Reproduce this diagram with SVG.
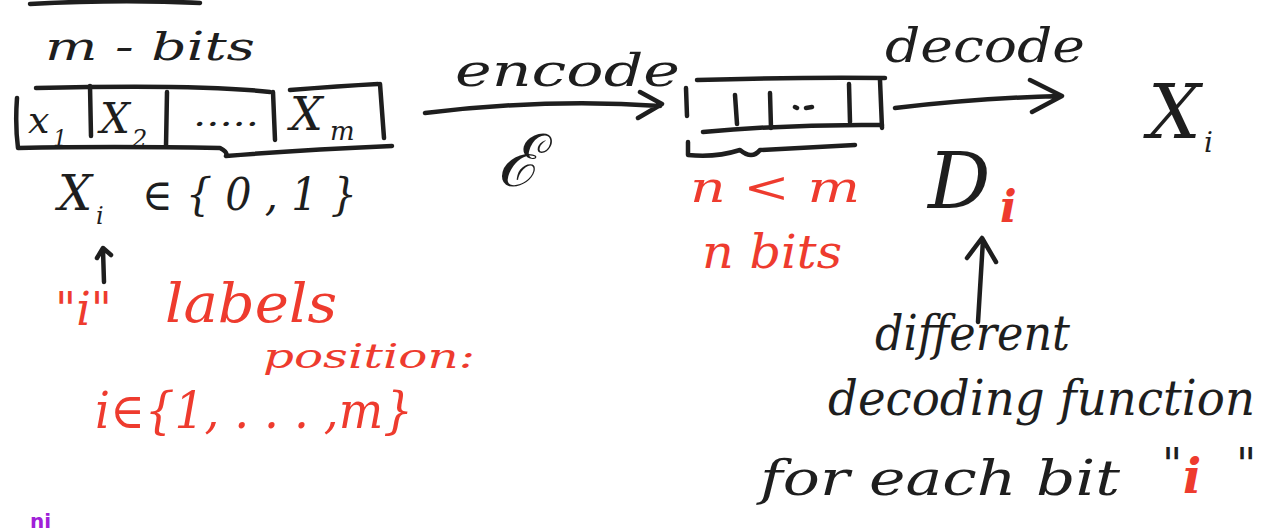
<svg xmlns="http://www.w3.org/2000/svg" width="1272" height="531" viewBox="0 0 1272 531">
<style>
.ink{fill:none;stroke:#1e1e1e;stroke-width:4.5;stroke-linecap:round;stroke-linejoin:round}
.k{fill:#1e1e1e;font-family:"DejaVu Serif","Liberation Serif",serif;font-style:italic}
.r{fill:#ee3b2e;font-family:"DejaVu Serif","Liberation Serif",serif;font-style:italic}
</style>
<rect width="1272" height="531" fill="#ffffff"/>
<g id="topstroke"><path class="ink" d="M30,4 Q120,-1 200,3"/></g>
<g id="input-register">
  <text class="k" x="45" y="60" font-size="40" textLength="210" lengthAdjust="spacingAndGlyphs">m - bits</text>
  <path class="ink" d="M36,88 Q200,84 270,92 M290,90 Q340,86 378,84"/>
  <path class="ink" d="M17,98 Q15,125 18,148 Q110,146 220,148 Q228,152 226,156 Q300,150 392,146"/>
  <path class="ink" d="M90,86 L91,136 M167,92 L166,146 M273,92 L275,140 M380,84 L384,138"/>
  <text class="k" x="28" y="133" font-size="38">x</text>
  <text class="k" x="53" y="146" font-size="22">1</text>
  <text class="k" x="100" y="133" font-size="42">X</text>
  <text class="k" x="132" y="147" font-size="24">2</text>
  <text class="k" x="193" y="126" font-size="32" textLength="66" lengthAdjust="spacingAndGlyphs">.....</text>
  <text class="k" x="290" y="130" font-size="46">X</text>
  <text class="k" x="330" y="140" font-size="26">m</text>
  <text class="k" x="58" y="210" font-size="48">X</text>
  <text class="k" x="96" y="224" font-size="24">i</text>
  <text class="k" x="142" y="210" font-size="44" textLength="215" lengthAdjust="spacingAndGlyphs">∈ { 0 , 1 }</text>
</g>
<g id="connectors">
  <path class="ink" d="M425,113 Q550,98 660,106 M640,92 L662,104 L638,118"/>
  <path class="ink" d="M895,108 Q980,98 1060,96 M1030,80 L1062,96 L1032,112"/>
  <path class="ink" d="M104,282 L103,250 M97,258 L103,248 L111,255"/>
  <path class="ink" d="M978,322 L983,240 M967,258 L982,238 L996,262"/>
</g>
<g id="encode-label">
  <text class="k" x="455" y="86" font-size="44" textLength="225" lengthAdjust="spacingAndGlyphs">encode</text>
  <text class="k" x="497" y="186" font-size="72">ℰ</text>
</g>
<g id="code-register">
  <path class="ink" d="M686,88 L687,116 M697,80 Q800,77 885,78 M703,132 Q790,124 882,125"/>
  <path class="ink" d="M735,95 L737,124 M770,93 L771,128 M795,107 L797,108 M806,108 L812,107 M849,84 L850,122 M880,80 L882,128"/>
  <path class="ink" d="M688,142 L688,155 Q715,158 740,150 Q752,160 760,150 Q800,148 855,145"/>
  <text class="r" x="690" y="202" font-size="42" textLength="170" lengthAdjust="spacingAndGlyphs">n &lt; m</text>
  <text class="r" x="702" y="268" font-size="46" textLength="140" lengthAdjust="spacingAndGlyphs">n bits</text>
</g>
<g id="decode-label">
  <text class="k" x="885" y="62" font-size="46" textLength="200" lengthAdjust="spacingAndGlyphs">decode</text>
  <text class="k" x="928" y="208" font-size="78">D</text>
  <text class="r" x="1000" y="222" font-size="44" font-weight="bold">i</text>
</g>
<g id="output">
  <text class="k" x="1148" y="138" font-size="74">X</text>
  <text class="k" x="1204" y="152" font-size="28">i</text>
</g>
<g id="index-note">
  <text class="r" x="55" y="325" font-size="46">"i"</text>
  <text class="r" x="165" y="322" font-size="54" textLength="172" lengthAdjust="spacingAndGlyphs">labels</text>
  <text class="r" x="263" y="368" font-size="34" textLength="212" lengthAdjust="spacingAndGlyphs">position:</text>
  <text class="r" x="95" y="428" font-size="50" textLength="318" lengthAdjust="spacingAndGlyphs">i∈{1, . . . ,m}</text>
</g>
<g id="decoder-note">
  <text class="k" x="875" y="350" font-size="48" textLength="195" lengthAdjust="spacingAndGlyphs">different</text>
  <text class="k" x="828" y="415" font-size="48" textLength="427" lengthAdjust="spacingAndGlyphs">decoding function</text>
  <text class="k" x="760" y="495" font-size="48" textLength="360" lengthAdjust="spacingAndGlyphs">for each bit</text>
  <text class="k" x="1162" y="480" font-size="44">"</text>
  <text class="r" x="1183" y="493" font-size="48" font-weight="bold">i</text>
  <text class="k" x="1236" y="480" font-size="44">"</text>
</g>
<g id="bottom-note">
  <text x="30" y="528" font-size="20" fill="#a020d8" font-family="DejaVu Sans,sans-serif" font-weight="bold">ni</text>
</g>
</svg>
